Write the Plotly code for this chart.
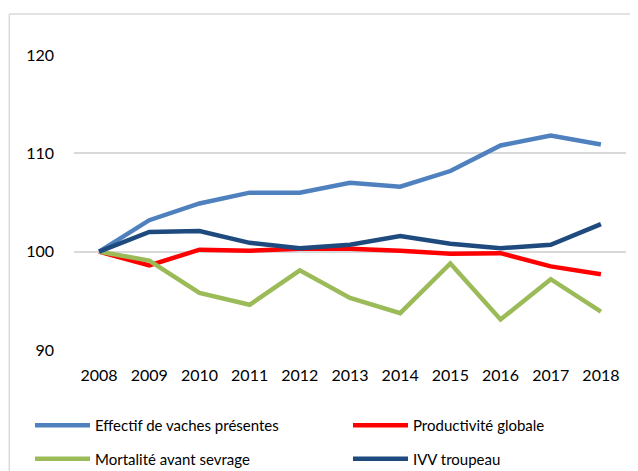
import plotly.graph_objects as go

years = ["2008", "2009", "2010", "2011", "2012", "2013", "2014", "2015", "2016", "2017", "2018"]
effectif = [100, 103.2, 104.9, 106.0, 106.0, 107.0, 106.6, 108.2, 110.8, 111.8, 110.9]
productivite = [100, 98.6, 100.2, 100.1, 100.3, 100.3, 100.1, 99.8, 99.85, 98.5, 97.7]
mortalite = [100, 99.1, 95.8, 94.6, 98.1, 95.3, 93.75, 98.8, 93.1, 97.2, 93.9]
ivv = [100, 102.0, 102.1, 100.9, 100.35, 100.7, 101.6, 100.8, 100.35, 100.7, 102.8]

names = ["Effectif de vaches présentes", "Productivité globale", "Mortalité avant sevrage", "IVV troupeau"]
colors = ["#5081bf", "#ff0000", "#9bbb59", "#1f4a7e"]
legends = ["legend", "legend2", "legend", "legend2"]
series = [effectif, productivite, mortalite, ivv]

FONT = "Lato, Roboto, sans-serif"
OFF = 8  # page body margin
W, H = 630, 463
L, R, T, B = 66, 12, 47, 121
PW, PH = W - L - R, H - T - B

def px_x(x):
    return (x - OFF - L) / PW

def px_y(y):
    return (H - B - (y - OFF)) / PH

fig = go.Figure()
for i, (n, c, s, lg) in enumerate(zip(names, colors, series, legends)):
    fig.add_trace(go.Scatter(x=years, y=s, name=n, mode="lines", legend=lg,
                             legendgroup=f"g{i}",
                             line=dict(color=c, width=4.5)))

leg_common = dict(orientation="v", xanchor="left", yanchor="top", tracegroupgap=11,
                  font=dict(family=FONT, size=15, color="#000000"),
                  itemwidth=55, bgcolor="rgba(0,0,0,0)")

fig.update_layout(
    width=W, height=H,
    margin=dict(l=L, r=R, t=T, b=B, autoexpand=False),
    paper_bgcolor="white", plot_bgcolor="white",
    font=dict(family=FONT, size=16, color="#000000"),
    showlegend=True,
    legend=dict(x=px_x(30), y=px_y(409), **leg_common),
    legend2=dict(x=px_x(348), y=px_y(409), **leg_common),
    xaxis=dict(type="category", range=[-0.5, 10.5], showgrid=False, zeroline=False,
               showline=False, ticks="", tickfont=dict(size=16), ticklabelstandoff=14),
    yaxis=dict(range=[90, 120], tickvals=[90, 100, 110, 120], showgrid=True,
               gridcolor="#d9d9d9", gridwidth=1.5, zeroline=False, showline=False,
               ticks="", tickfont=dict(size=16), ticklabelstandoff=19),
    shapes=[
        dict(type="line", xref="paper", yref="paper", x0=px_x(9.3), x1=px_x(9.3), y0=px_y(14), y1=px_y(480),
             line=dict(color="#d9d9d9", width=1.5)),
        dict(type="line", xref="paper", yref="paper", x0=px_x(9.3), x1=px_x(650), y0=px_y(14), y1=px_y(14),
             line=dict(color="#d9d9d9", width=1.5)),
    ],
)
fig.write_html("out.html")
